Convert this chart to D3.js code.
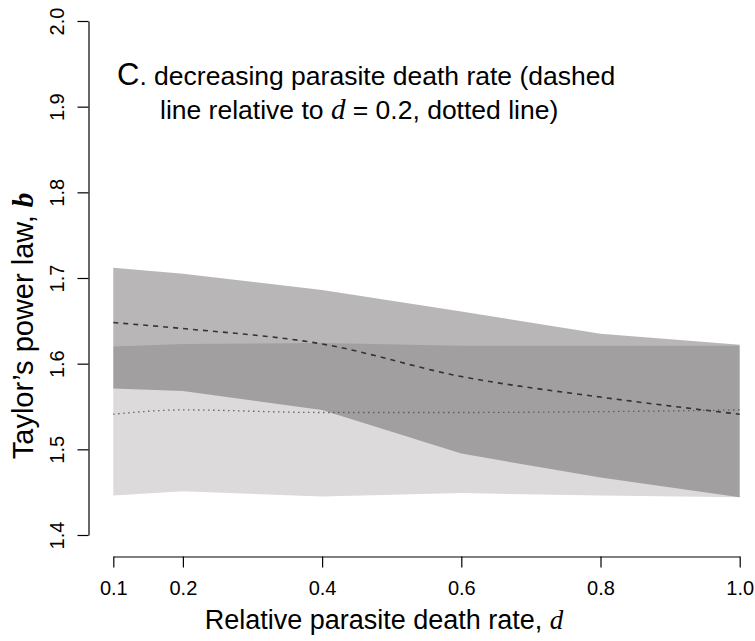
<!DOCTYPE html>
<html>
<head>
<meta charset="utf-8">
<script src="https://cdn.jsdelivr.net/npm/d3@7"></script>
<style>
  body { margin: 0; background: #fff; }
  svg text { font-family: "Liberation Sans", Arial, sans-serif; fill: #000; }
</style>
</head>
<body>
<div id="chart"></div>
<script>
// relative parasite death rate
const deathRate = [0.1, 0.2, 0.4, 0.6, 0.8, 1.0];

// decreasing death rate (dashed line + its band)
const decMean  = [1.648, 1.641, 1.623, 1.585, 1.561, 1.541];
const decUpper = [1.712, 1.705, 1.686, 1.661, 1.635, 1.622];
const decLower = [1.571, 1.568, 1.546, 1.495, 1.467, 1.444];

// reference d = 0.2 (dotted line + its band)
const refMean  = [1.541, 1.546, 1.543, 1.543, 1.544, 1.546];
const refUpper = [1.620, 1.623, 1.624, 1.621, 1.621, 1.621];
const refLower = [1.446, 1.451, 1.445, 1.449, 1.446, 1.444];

const xTicks = [0.1, 0.2, 0.4, 0.6, 0.8, 1.0];
const yTicks = [1.4, 1.5, 1.6, 1.7, 1.8, 1.9, 2.0];

const width = 755, height = 641;

const svg = d3.select('#chart')
  .append('svg')
  .attr('width', width)
  .attr('height', height);

const x = d3.scaleLinear().domain([0.1, 1.0]).range([113.3, 739.7]);
const y = d3.scaleLinear().domain([1.4, 2.0]).range([535, 21]);

function bandData(lo, hi) {
  return deathRate.map((d, i) => ({ d: d, lo: lo[i], hi: hi[i] }));
}

const area = d3.area()
  .x(p => x(p.d))
  .y0(p => y(p.lo))
  .y1(p => y(p.hi));

// light band first, then the darker one blended on top
svg.append('path')
  .datum(bandData(refLower, refUpper))
  .attr('fill', '#dcdadb')
  .attr('d', area);

svg.append('path')
  .datum(bandData(decLower, decUpper))
  .attr('fill', '#474343')
  .attr('fill-opacity', 0.39)
  .attr('d', area);

const line = d3.line()
  .x((v, i) => x(deathRate[i]))
  .y(v => y(v))
  .curve(d3.curveMonotoneX);

svg.append('path')
  .datum(decMean)
  .attr('fill', 'none')
  .attr('stroke', '#333')
  .attr('stroke-width', 1.6)
  .attr('stroke-dasharray', '5,5')
  .attr('d', line);

svg.append('path')
  .datum(refMean)
  .attr('fill', 'none')
  .attr('stroke', '#555')
  .attr('stroke-width', 1.3)
  .attr('stroke-dasharray', '1.3,3.7')
  .attr('d', line);

// axes, R style
const xAxis = svg.append('g')
  .attr('transform', 'translate(0,556.5)')
  .call(d3.axisBottom(x).tickValues(xTicks).tickFormat(d3.format('.1f')).tickSize(11).tickSizeOuter(0));
xAxis.selectAll('text')
  .attr('y', 38)
  .attr('dy', 0)
  .style('font-size', '20px');

const yAxis = svg.append('g')
  .attr('transform', 'translate(88.5,0)')
  .call(d3.axisLeft(y).tickValues(yTicks).tickFormat(d3.format('.1f')).tickSize(11).tickSizeOuter(0));
yAxis.selectAll('text')
  .attr('transform', 'rotate(-90)')
  .attr('x', 0)
  .attr('y', -25)
  .attr('dy', 0)
  .attr('text-anchor', 'middle')
  .style('font-size', '20px');

svg.selectAll('.domain, .tick line').attr('stroke', '#000').attr('stroke-width', 1.2);

// axis titles
const xTitle = svg.append('text')
  .attr('x', 384)
  .attr('y', 629)
  .attr('text-anchor', 'middle')
  .style('font-size', '27px');
xTitle.append('tspan').text('Relative parasite death rate, ');
xTitle.append('tspan')
  .style('font-family', '"Liberation Serif", serif')
  .style('font-style', 'italic')
  .text('d');

const yTitle = svg.append('text')
  .attr('transform', 'translate(33,326) rotate(-90)')
  .attr('text-anchor', 'middle')
  .style('font-size', '29px');
yTitle.append('tspan').text('Taylor\u2019s power law, ');
yTitle.append('tspan')
  .style('font-family', '"Liberation Serif", serif')
  .style('font-style', 'italic')
  .style('font-weight', 'bold')
  .text('b');

// panel annotation
const note1 = svg.append('text')
  .attr('x', 117)
  .attr('y', 85)
  .style('font-size', '26.5px');
note1.append('tspan').style('font-size', '31px').text('C');
note1.append('tspan').text('. decreasing parasite death rate (dashed');

const note2 = svg.append('text')
  .attr('x', 160)
  .attr('y', 119)
  .style('font-size', '26.5px');
note2.append('tspan').text('line relative to ');
note2.append('tspan')
  .style('font-family', '"Liberation Serif", serif')
  .style('font-style', 'italic')
  .style('font-size', '29px')
  .text('d');
note2.append('tspan').text(' = 0.2, dotted line)');
</script>
</body>
</html>
